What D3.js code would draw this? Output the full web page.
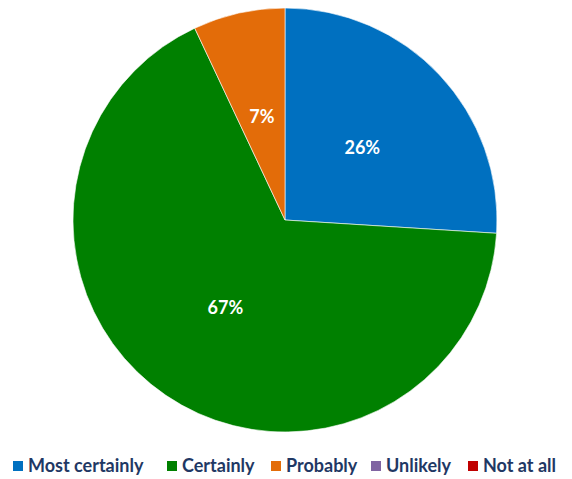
<!DOCTYPE html>
<html>
<head>
<meta charset="utf-8">
<script src="https://cdn.jsdelivr.net/npm/d3@7"></script>
<style>
  body { margin: 0; background: #fff; }
  svg { display: block; font-family: Lato, "Open Sans", sans-serif; }
</style>
</head>
<body>
<div id="chart"></div>
<script>
const categories = ['Most certainly', 'Certainly', 'Probably', 'Unlikely', 'Not at all'];
const values = [26, 67, 7, 0, 0];
const colors = ['#0070C0', '#008000', '#E36C09', '#8064A2', '#C00000'];

const width = 572;
const height = 479;
const cx = 285;
const cy = 220;
const radius = 212;

const svg = d3.select('#chart')
  .append('svg')
  .attr('width', width)
  .attr('height', height);

const color = d3.scaleOrdinal().domain(categories).range(colors);

const pie = d3.pie().sort(null).value(d => d.value);
const data = categories.map((c, i) => ({ name: c, value: values[i] }));
const arcs = pie(data);

const arc = d3.arc().innerRadius(0).outerRadius(radius);
const labelArc = d3.arc().innerRadius(radius * 0.5).outerRadius(radius * 0.5);

const pieGroup = svg.append('g').attr('transform', `translate(${cx},${cy})`);

pieGroup.selectAll('path')
  .data(arcs.filter(d => d.data.value > 0))
  .enter()
  .append('path')
  .attr('d', arc)
  .attr('fill', d => color(d.data.name))
  .attr('stroke', '#fff')
  .attr('stroke-width', 0.6);

const total = d3.sum(values);
pieGroup.selectAll('text')
  .data(arcs.filter(d => d.data.value > 0))
  .enter()
  .append('text')
  .attr('transform', d => `translate(${labelArc.centroid(d)})`)
  .attr('text-anchor', 'middle')
  .attr('dy', '0.35em')
  .attr('fill', '#fff')
  .attr('font-weight', 'bold')
  .attr('font-size', '18px')
  .text(d => `${Math.round(d.data.value / total * 100)}%`);

// Legend
const legendX = [13, 167, 271, 371, 468];
const legend = svg.append('g').attr('transform', 'translate(0,466)');
const rows = legend.selectAll('g')
  .data(categories)
  .enter()
  .append('g')
  .attr('transform', (d, i) => `translate(${legendX[i]},0)`);

rows.append('rect')
  .attr('x', 0)
  .attr('y', -5)
  .attr('width', 10)
  .attr('height', 10)
  .attr('fill', color);

rows.append('text')
  .attr('x', 15)
  .attr('y', 0)
  .attr('dy', '0.35em')
  .attr('fill', '#1F3864')
  .attr('font-weight', 'bold')
  .attr('font-size', '18px')
  .text(d => d);
</script>
</body>
</html>
